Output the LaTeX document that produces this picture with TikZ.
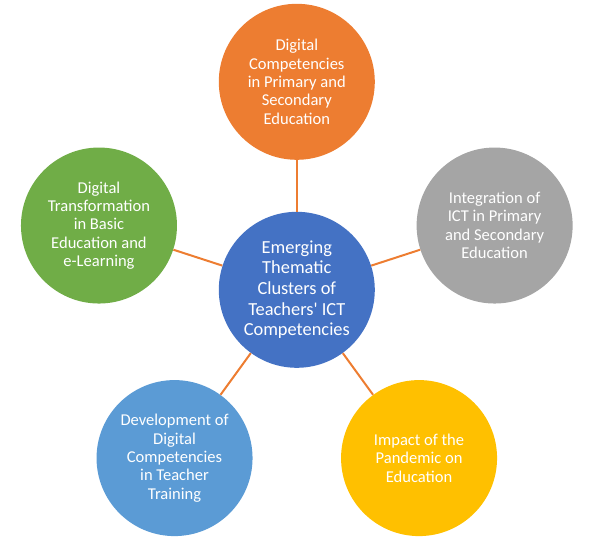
\documentclass[tikz,border=0pt]{standalone}
\usepackage{fontspec}
\setmainfont{Carlito}
\usetikzlibrary{positioning}
\definecolor{hubblue}{RGB}{68,114,196}
\definecolor{linkorange}{RGB}{237,125,49}
\definecolor{topicorange}{RGB}{237,125,49}
\definecolor{topicgray}{RGB}{165,165,165}
\definecolor{topicyellow}{RGB}{255,192,0}
\definecolor{topicblue}{RGB}{91,155,213}
\definecolor{topicgreen}{RGB}{112,173,71}
\begin{document}
\begin{tikzpicture}[
  x=0.75pt, y=0.75pt,
  hub/.style={circle, fill=hubblue, minimum size=117pt, inner sep=0pt,
              text=white, align=center, font=\fontsize{13.8}{15.5}\selectfont},
  topic/.style={circle, minimum size=117pt, inner sep=0pt,
                text=white, align=center, font=\fontsize{12.4}{13.8}\selectfont},
  link/.style={draw=linkorange, line width=1.5pt}
]
\useasboundingbox (-296.8,-247.2) rectangle (294.2,289.8);

\node[hub] (hub) at (0,0) {Emerging\\Thematic\\Clusters of\\Teachers\textquotesingle{} ICT\\Competencies};

\node[topic, fill=topicorange] (primary) at (90:208)
  {Digital\\Competencies\\in Primary and\\Secondary\\Education};
\node[topic, fill=topicgray] (ict) at (18:208)
  {Integration of\\ICT in Primary\\and Secondary\\Education};
\node[topic, fill=topicyellow] (pandemic) at (-54:208)
  {Impact of the\\Pandemic on\\Education};
\node[topic, fill=topicblue] (training) at (234:208)
  {Development of\\Digital\\Competencies\\in Teacher\\Training};
\node[topic, fill=topicgreen] (basic) at (162:208)
  {Digital\\Transformation\\in Basic\\Education and\\e-Learning};

\draw[link] (hub) -- (primary);
\draw[link] (hub) -- (ict);
\draw[link] (hub) -- (pandemic);
\draw[link] (hub) -- (training);
\draw[link] (hub) -- (basic);
\end{tikzpicture}
\end{document}
